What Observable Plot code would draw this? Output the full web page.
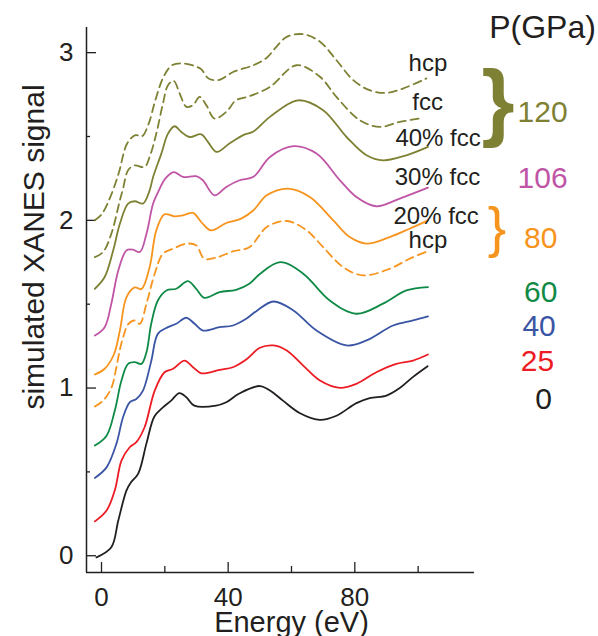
<!DOCTYPE html>
<html><head><meta charset="utf-8">
<script src="https://cdn.jsdelivr.net/npm/d3@7"></script>
<script src="https://cdn.jsdelivr.net/npm/@observablehq/plot@0.6"></script>
<style>body{margin:0;background:#fff}svg{display:block}</style>
</head><body><div id="chart"></div>
<script>
// ---- data ----
const xTicks = [0, 40, 80];
const xMinorTicks = [20, 60, 100];
const yTicks = [0, 1, 2, 3];
const yMinorTicks = [0.5, 1.5, 2.5];

const e0 = [-1.6, 3.1, 5.3, 7.9, 9.4, 11.6, 14.2, 16.7, 19.4, 22, 24.6, 26.8, 29.3, 36.2, 39.4, 43.5, 50, 53.2, 57.3, 62.7, 69, 74.2, 80.5, 84.7, 90, 94.2, 98.3, 103];
const v0 = [-0.01, 0.05, 0.21, 0.39, 0.44, 0.49, 0.67, 0.83, 0.885, 0.925, 0.97, 0.945, 0.895, 0.895, 0.915, 0.967, 1.012, 0.985, 0.925, 0.85, 0.81, 0.835, 0.91, 0.94, 0.955, 1.0, 1.065, 1.13];

const e25 = [-2.1, 1.6, 4.2, 6.3, 8.9, 11, 13.6, 16.8, 19.9, 22.6, 26.2, 28.9, 31.5, 37.3, 41.5, 45.7, 50, 54.3, 58.5, 63.7, 69, 75.3, 80.5, 86.8, 93.1, 98.4, 103.1];
const v25 = [0.205, 0.27, 0.39, 0.567, 0.647, 0.677, 0.766, 0.985, 1.094, 1.115, 1.164, 1.124, 1.088, 1.108, 1.124, 1.17, 1.24, 1.254, 1.224, 1.134, 1.045, 1.001, 1.025, 1.094, 1.144, 1.164, 1.2];

const e40 = [-2.1, 1.6, 4.7, 6.8, 8.9, 11, 13.1, 15.7, 17.8, 21, 23.6, 26.8, 29.4, 32, 37.3, 41.5, 45.7, 49, 54.3, 60.6, 67.9, 77.4, 83.7, 92.1, 98.4, 103.1];
const v40 = [0.464, 0.527, 0.667, 0.826, 0.915, 0.935, 0.985, 1.16, 1.323, 1.363, 1.383, 1.419, 1.383, 1.343, 1.363, 1.373, 1.413, 1.46, 1.516, 1.463, 1.343, 1.254, 1.284, 1.373, 1.403, 1.427];

const e60 = [-2.1, 1.6, 4.2, 6.3, 8.4, 10.5, 12.6, 14.2, 15.7, 17.8, 20.5, 23.6, 27.3, 29.9, 32.5, 37.3, 42.5, 46.7, 50, 56.4, 63.7, 72.1, 80.5, 88.9, 96.3, 103.1];
const v60 = [0.657, 0.716, 0.866, 1.045, 1.144, 1.154, 1.144, 1.214, 1.383, 1.522, 1.582, 1.592, 1.638, 1.592, 1.538, 1.572, 1.586, 1.622, 1.68, 1.751, 1.682, 1.522, 1.443, 1.503, 1.582, 1.602];

const e80hcp = [-2.1, 0.5, 3.1, 4.7, 5.8, 6.8, 8.4, 10.5, 12.1, 14.2, 16.8, 19.4, 22.6, 26.8, 29.9, 32.5, 36.8, 41.5, 46.7, 52.2, 58.5, 64.8, 70, 76.3, 82.6, 91, 97.3, 103.1];
const v80hcp = [0.89, 0.925, 1.0, 1.124, 1.23, 1.3, 1.38, 1.403, 1.383, 1.503, 1.682, 1.801, 1.831, 1.861, 1.851, 1.771, 1.781, 1.815, 1.84, 1.96, 1.996, 1.94, 1.84, 1.721, 1.672, 1.711, 1.771, 1.817];

const e80mix = [-2.1, 1, 3.9, 5.8, 7.9, 10.5, 12.6, 15.2, 17.3, 19.9, 23.1, 25.7, 28.9, 31.5, 34.6, 39.4, 44.1, 48, 52.2, 59, 65.8, 73.2, 78.4, 83.7, 91, 97.3, 103.1];
const v80mix = [1.081, 1.115, 1.2, 1.343, 1.542, 1.6, 1.59, 1.721, 1.94, 2.036, 2.024, 2.03, 2.044, 1.99, 1.94, 1.984, 2.01, 2.06, 2.149, 2.189, 2.139, 2.0, 1.9, 1.861, 1.9, 1.95, 2.0];

const e106 = [-2.1, 1, 3.1, 5.3, 7.9, 9.9, 12.1, 14.2, 16.3, 17.9, 20.2, 22.8, 25.7, 29.9, 32, 35.7, 39.4, 43.6, 48, 53.2, 60.6, 67.9, 75.3, 80.5, 86.8, 94.2, 103.1];
const v106 = [1.313, 1.363, 1.503, 1.701, 1.821, 1.825, 1.811, 1.92, 2.1, 2.17, 2.25, 2.288, 2.259, 2.263, 2.239, 2.149, 2.199, 2.239, 2.26, 2.378, 2.442, 2.398, 2.239, 2.139, 2.084, 2.13, 2.195];

const e120mix = [-2.1, 1, 3.7, 5.8, 8.4, 10.5, 13.1, 15.2, 16.3, 18.9, 21, 23.1, 25.2, 27.8, 31.5, 33.6, 36.4, 40.4, 44.6, 48, 53.2, 62.1, 70, 77.4, 83.7, 88.9, 96.3, 103.1];
const v120mix = [1.592, 1.662, 1.821, 1.98, 2.1, 2.114, 2.1, 2.179, 2.259, 2.398, 2.517, 2.561, 2.527, 2.497, 2.513, 2.468, 2.408, 2.458, 2.507, 2.53, 2.617, 2.716, 2.657, 2.497, 2.388, 2.358, 2.388, 2.438];

const e120fcc = [-2.1, 0.5, 3.1, 5.8, 6.8, 8.4, 10.5, 13.6, 15.2, 17.3, 19.4, 21, 22.8, 24.7, 26.8, 28.9, 31, 33.1, 35.7, 39.4, 42.5, 46.7, 53.2, 61.6, 69, 74.2, 81.6, 87.9, 94.2, 100.5];
const v120fcc = [1.781, 1.811, 1.92, 2.119, 2.189, 2.299, 2.328, 2.318, 2.378, 2.517, 2.696, 2.806, 2.832, 2.756, 2.677, 2.687, 2.736, 2.687, 2.607, 2.647, 2.716, 2.74, 2.796, 2.925, 2.856, 2.736, 2.597, 2.557, 2.587, 2.607];

const e120hcp = [-2.1, 0.2, 2.8, 5.4, 8.1, 10.7, 12.8, 14.9, 17, 19.6, 22.3, 25.9, 31.2, 33.8, 37, 41.7, 48, 52.2, 55, 58.5, 63.7, 69, 74.2, 79.5, 84.7, 90, 95.2, 102.6];
const v120hcp = [2.0, 2.04, 2.14, 2.279, 2.458, 2.508, 2.501, 2.577, 2.716, 2.856, 2.925, 2.935, 2.905, 2.846, 2.836, 2.886, 2.925, 2.97, 3.03, 3.094, 3.11, 3.065, 2.955, 2.836, 2.776, 2.76, 2.786, 2.846];

const curveLabels = ["hcp", "fcc", "40% fcc", "30% fcc", "20% fcc", "hcp"];
const pressureLabels = ["120", "106", "80", "60", "40", "25", "0"];

// ---- styles & layout ----
const ink = "#231f20";
const C = {black: "#231f20", red: "#ed1c24", blue: "#3a55a4", green: "#0f8a46", orange: "#f7941d", magenta: "#c055a6", olive: "#7e8133"};
const font = '"Liberation Sans", Arial, Helvetica, sans-serif';

const series = [
  {E: e0, V: v0, color: C.black, dash: null},
  {E: e25, V: v25, color: C.red, dash: null},
  {E: e40, V: v40, color: C.blue, dash: null},
  {E: e60, V: v60, color: C.green, dash: null},
  {E: e80hcp, V: v80hcp, color: C.orange, dash: "8,5"},
  {E: e80mix, V: v80mix, color: C.orange, dash: null},
  {E: e106, V: v106, color: C.magenta, dash: null},
  {E: e120mix, V: v120mix, color: C.olive, dash: null},
  {E: e120fcc, V: v120fcc, color: C.olive, dash: "8,5"},
  {E: e120hcp, V: v120hcp, color: C.olive, dash: "8,5"}
];

// annotation anchors (data coordinates)
const curveLabelPos = [[103.1, 2.939], [103.0, 2.701], [106.3, 2.492], [106.1, 2.254], [105.7, 2.027], [103.1, 1.878]];
const pressurePos = [[139.3, 2.641], [139.3, 2.253], [138.7, 1.895], [138.7, 1.573], [138.2, 1.370], [137.7, 1.156], [139.6, 0.935]];
const pressureColors = [C.olive, C.magenta, C.orange, C.green, C.blue, C.red, C.black];

const X0 = -4.74, X1 = 117.8, Y0 = -0.1, Y1 = 3.15;
const pxX = (X1 - X0) / 388, pxY = (Y1 - Y0) / 545;

const marks = [
  Plot.ruleY([Y0], {stroke: ink, strokeWidth: 1.5}),
  Plot.ruleX([X0], {stroke: ink, strokeWidth: 1.5}),
  Plot.ruleX(xTicks, {x: d => d, y1: Y0, y2: Y0 + 10 * pxY, stroke: ink, strokeWidth: 1.3}),
  Plot.ruleX(xMinorTicks, {x: d => d, y1: Y0, y2: Y0 + 6 * pxY, stroke: ink, strokeWidth: 1.3}),
  Plot.ruleY(yTicks, {y: d => d, x1: X0, x2: X0 + 10 * pxX, stroke: ink, strokeWidth: 1.3}),
  Plot.ruleY(yMinorTicks, {y: d => d, x1: X0, x2: X0 + 4 * pxX, stroke: ink, strokeWidth: 1.3}),
  Plot.axisX({ticks: xTicks, tickFormat: d => String(d), tickSize: 0, tickPadding: 15, fontSize: 26, label: null, fill: ink}),
  Plot.axisY({ticks: yTicks, tickFormat: d => String(d), tickSize: 0, tickPadding: 13, fontSize: 26, label: null, fill: ink}),
  ...series.map(s => Plot.line(s.E.map((e, i) => ({E: e, V: s.V[i]})), {
    x: "E", y: "V", stroke: s.color, strokeWidth: 1.8, curve: "catmull-rom",
    strokeDasharray: s.dash
  })),
  Plot.text(curveLabels, {x: (d, i) => curveLabelPos[i][0], y: (d, i) => curveLabelPos[i][1], text: d => d, fontSize: 24, fill: ink, textAnchor: "middle", lineAnchor: "middle"}),
  Plot.text(pressureLabels, {x: (d, i) => pressurePos[i][0], y: (d, i) => pressurePos[i][1], text: d => d, fontSize: 30, fill: (d, i) => pressureColors[i], textAnchor: "middle", lineAnchor: "middle"}),
  Plot.text(["P(GPa)"], {x: 139.3, y: 3.151, text: d => d, fontSize: 32, fill: ink, textAnchor: "middle", lineAnchor: "middle"}),
  Plot.text(["}"], {x: 125.2, y: 2.703, text: d => d, fontSize: 85, fontWeight: "bold", fill: C.olive, textAnchor: "middle", lineAnchor: "middle"}),
  Plot.text(["}"], {x: 124.9, y: 1.953, text: d => d, fontSize: 55, fill: C.orange, textAnchor: "middle", lineAnchor: "middle"}),
  Plot.text(["Energy (eV)"], {x: 60.0, y: -0.40, text: d => d, fontSize: 29, fill: ink, textAnchor: "middle", lineAnchor: "middle"}),
  Plot.text(["simulated XANES signal"], {x: -21.35, y: 1.841, text: d => d, fontSize: 30, fill: ink, rotate: -90, textAnchor: "middle", lineAnchor: "middle"})
];

const chart = Plot.plot({
  width: 598, height: 636,
  marginLeft: 86, marginRight: 124, marginTop: 27, marginBottom: 64,
  x: {domain: [X0, X1]},
  y: {domain: [Y0, Y1]},
  color: {type: "identity"},
  style: {fontFamily: font, background: "#fff", color: ink, overflow: "visible"},
  marks
});
document.getElementById("chart").appendChild(chart);
</script>
</body></html>
